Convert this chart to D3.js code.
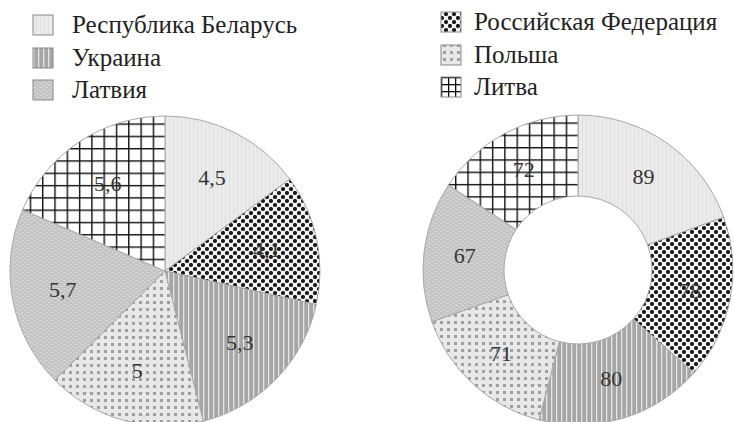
<html>
<head>
<meta charset="utf-8">
<script src="https://cdn.jsdelivr.net/npm/d3@7/dist/d3.min.js"></script>
</head>
<body style="margin:0;background:#fff">
<svg id="chart" width="734" height="422"></svg>
<script>
// Countries, in clockwise order starting at 12 o'clock
const countries = ["Республика Беларусь", "Российская Федерация", "Украина", "Польша", "Латвия", "Литва"];
const patternIds = ["pBel", "pRus", "pUkr", "pPol", "pLat", "pLit"];
// Left pie values
const pieValues = [4.5, 4.1, 5.3, 5, 5.7, 5.6];
const pieLabels = ["4,5", "4,1", "5,3", "5", "5,7", "5,6"];
// Right donut values
const donutValues = [89, 78, 80, 71, 67, 72];
const donutLabels = ["89", "78", "80", "71", "67", "72"];
// Legend layout: two columns of three entries
const legendLeft = [0, 2, 4];
const legendRight = [1, 3, 5];

const FONT = "'Liberation Serif', monospace";
const svg = d3.select("#chart");
const defs = svg.append("defs");

// Fill patterns
function pattern(id, w, h, build) {
  const p = defs.append("pattern").attr("id", id)
    .attr("patternUnits", "userSpaceOnUse").attr("width", w).attr("height", h);
  build(p);
}
pattern("pBel", 4, 4, p => {
  p.append("rect").attr("width", 4).attr("height", 4).attr("fill", "#ebebeb");
  p.append("rect").attr("x", 0).attr("width", 1).attr("height", 4).attr("fill", "#e0e0e0");
});
pattern("pRus", 8, 8, p => {
  p.append("rect").attr("width", 8).attr("height", 8).attr("fill", "#f4f4f4");
  p.append("circle").attr("cx", 2).attr("cy", 2).attr("r", 2.1).attr("fill", "#1a1a1a");
  p.append("circle").attr("cx", 6).attr("cy", 6).attr("r", 2.1).attr("fill", "#1a1a1a");
});
pattern("pUkr", 5, 5, p => {
  p.append("rect").attr("width", 5).attr("height", 5).attr("fill", "#a6a6a6");
  p.append("rect").attr("x", 3).attr("width", 1.3).attr("height", 5).attr("fill", "#e6e6e6");
});
pattern("pPol", 7, 7, p => {
  p.append("rect").attr("width", 7).attr("height", 7).attr("fill", "#e8e8e8");
  p.append("rect").attr("x", 2).attr("y", 2).attr("width", 3).attr("height", 3).attr("fill", "#a0a0a0");
});
pattern("pLat", 6, 4, p => {
  p.append("rect").attr("width", 6).attr("height", 4).attr("fill", "#c4c4c4");
  p.append("rect").attr("x", 0.5).attr("y", 1).attr("width", 2).attr("height", 1).attr("fill", "#e2e2e2");
  p.append("rect").attr("x", 3.5).attr("y", 3).attr("width", 2).attr("height", 1).attr("fill", "#e2e2e2");
});
pattern("pLit", 12.3, 12.3, p => {
  p.append("rect").attr("width", 12.3).attr("height", 12.3).attr("fill", "#ffffff");
  p.append("rect").attr("x", 0).attr("width", 1.4).attr("height", 12.3).attr("fill", "#111");
  p.append("rect").attr("y", 0).attr("width", 12.3).attr("height", 1.4).attr("fill", "#111");
});
// Smaller grid for the legend swatch
pattern("pLitSw", 7, 7, p => {
  p.append("rect").attr("width", 7).attr("height", 7).attr("fill", "#ffffff");
  p.append("rect").attr("x", 0).attr("width", 1.3).attr("height", 7).attr("fill", "#111");
  p.append("rect").attr("y", 0).attr("width", 7).attr("height", 1.3).attr("fill", "#111");
});

const pie = d3.pie().sort(null).value(d => d);

function drawRing(cx, cy, values, labels, inner, outer, labelR) {
  const g = svg.append("g").attr("transform", `translate(${cx},${cy})`);
  const arc = d3.arc().innerRadius(inner).outerRadius(outer);
  const labelArc = d3.arc().innerRadius(labelR).outerRadius(labelR);
  const arcs = pie(values);
  g.selectAll("path.slice").data(arcs).join("path")
    .attr("class", "slice")
    .attr("d", arc)
    .attr("fill", (d, i) => `url(#${patternIds[i]})`)
    .attr("stroke", "#a8a8a8")
    .attr("stroke-width", 1);
  g.selectAll("text.lbl").data(arcs).join("text")
    .attr("class", "lbl")
    .attr("x", d => labelArc.centroid(d)[0])
    .attr("y", d => labelArc.centroid(d)[1] + 7)
    .attr("text-anchor", "middle")
    .attr("font-family", FONT)
    .style("font-family", FONT)
    .attr("font-size", 22)
    .attr("fill", "#333")
    .text((d, i) => labels[i]);
}

drawRing(165, 271, pieValues, pieLabels, 0, 155, 104);
drawRing(578, 270, donutValues, donutLabels, 74, 155, 114);

// Legend
function drawLegend(items, sx, tx, ys) {
  const g = svg.append("g");
  items.forEach((idx, k) => {
    const y = ys[k];
    g.append("rect")
      .attr("x", sx).attr("y", y - 10).attr("width", 20).attr("height", 20)
      .attr("fill", `url(#${idx === 5 ? "pLitSw" : patternIds[idx]})`)
      .attr("stroke", "#888").attr("stroke-width", 1);
    g.append("text")
      .attr("x", tx).attr("y", y + 8)
      .attr("font-family", FONT)
      .style("font-family", FONT)
      .attr("font-size", 25).attr("fill", "#222")
      .text(countries[idx]);
  });
}
drawLegend(legendLeft, 33, 72, [25, 58, 90]);
drawLegend(legendRight, 441, 474, [22, 55, 87]);
</script>
</body>
</html>
